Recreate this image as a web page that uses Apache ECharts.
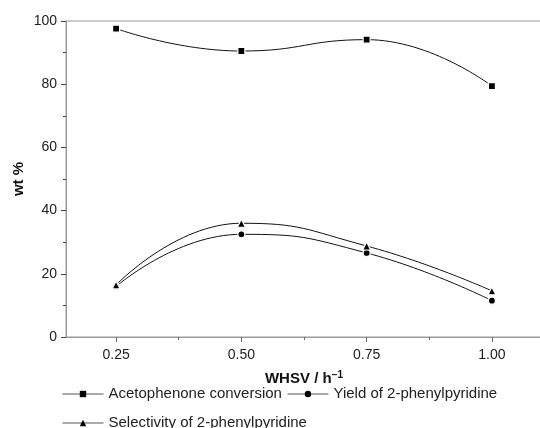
<!DOCTYPE html>
<html>
<head>
<meta charset="utf-8">
<script src="https://cdn.jsdelivr.net/npm/echarts@6/dist/echarts.min.js"></script>
<style>
  html, body { margin: 0; padding: 0; background: #fff; }
  #chart { width: 540px; height: 428px; }
</style>
</head>
<body>
<div id="chart"></div>
<script>
// data
const whsv = [0.25, 0.50, 0.75, 1.00];
const conversion = [97.6, 90.5, 94.1, 79.4];
const yieldPP = [16.0, 32.5, 26.6, 11.5];
const selectivity = [16.5, 36.0, 28.8, 14.6];
const xTickValues = [0.25, 0.5, 0.75, 1.0];
const xMinorValues = [0.375, 0.625, 0.875];

const names = [
  "Acetophenone conversion",
  "Yield of 2-phenylpyridine",
  "Selectivity of 2-phenylpyridine"
];

const font = "Liberation Sans, Arial, sans-serif";
const axisGray = "#9a9a9a";

const pair = (vals) => whsv.map((x, i) => [x, vals[i]]);

function makeSeries(name, vals, symbol, size) {
  return {
    name: name,
    type: "line",
    data: pair(vals),
    smooth: 0.5,
    symbol: symbol,
    symbolSize: size,
    showSymbol: true,
    lineStyle: { color: "#111", width: 1 },
    itemStyle: { color: "#000", borderColor: "#fff", borderWidth: 1.2 },
    emphasis: { disabled: true },
    animation: false
  };
}

const chart = echarts.init(document.getElementById("chart"));

chart.setOption({
  animation: false,
  textStyle: { fontFamily: font },
  grid: {
    left: 66, top: 21, width: 476, height: 316,
    show: true, borderColor: axisGray, borderWidth: 1,
    containLabel: false, outerBoundsMode: "none"
  },
  legend: {
    data: names,
    left: 57, top: 377, width: 440,
    itemWidth: 41, itemHeight: 8, itemGap: 5,
    itemStyle: { borderWidth: 0 },
    lineStyle: { color: "#555", width: 1 },
    textStyle: { fontSize: 15, color: "#222", lineHeight: 24, fontFamily: font }
  },
  xAxis: [
    {
      type: "value",
      min: 0.15, max: 1.1,
      name: "{b|WHSV / h}{s|−1}",
      nameLocation: "middle",
      nameGap: 33,
      nameMoveOverlap: false,
      nameTextStyle: {
        rich: {
          b: { fontSize: 15, fontWeight: "bold", color: "#111", fontFamily: font },
          s: { fontSize: 10, fontWeight: "bold", color: "#111", fontFamily: font, verticalAlign: "top", padding: [0, 0, 8, 0] }
        }
      },
      axisLine: { lineStyle: { color: axisGray, width: 1 } },
      axisTick: { show: true, customValues: xTickValues, length: 5, lineStyle: { color: "#666" } },
      axisLabel: {
        customValues: xTickValues,
        formatter: (v) => v.toFixed(2),
        fontSize: 14, color: "#222", margin: 11
      },
      splitLine: { show: false }
    },
    {
      type: "value",
      position: "bottom",
      min: 0.15, max: 1.1,
      axisLine: { show: false },
      axisTick: { show: true, customValues: xMinorValues, length: 3, lineStyle: { color: "#666" } },
      axisLabel: { show: false },
      splitLine: { show: false }
    }
  ],
  yAxis: {
    type: "value",
    min: 0, max: 100, interval: 20,
    name: "wt %",
    nameLocation: "middle",
    nameGap: 40,
    nameMoveOverlap: false,
    nameTextStyle: { fontSize: 15, fontWeight: "bold", color: "#111", fontFamily: font },
    axisLine: { show: true, lineStyle: { color: axisGray, width: 1 } },
    axisTick: { show: true, length: 5, lineStyle: { color: "#444" } },
    minorTick: { show: true, splitNumber: 2, length: 3, lineStyle: { color: "#444" } },
    axisLabel: { fontSize: 14, color: "#222", margin: 9 },
    splitLine: { show: false }
  },
  series: [
    makeSeries(names[0], conversion, "rect", 7),
    makeSeries(names[1], yieldPP, "circle", 7),
    makeSeries(names[2], selectivity, "triangle", 8)
  ]
});
</script>
</body>
</html>
